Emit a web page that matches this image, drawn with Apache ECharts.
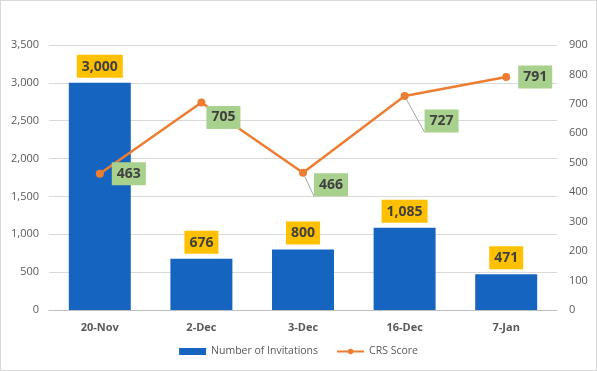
<!DOCTYPE html>
<html><head><meta charset="utf-8">
<script src="https://cdn.jsdelivr.net/npm/echarts@6/dist/echarts.min.js"></script>
<style>html,body{margin:0;padding:0;background:#fff}#c{width:595px;height:369px;border:1px solid #d9d9d9}</style>
</head><body><div id="c"></div>
<script>
const categories = ['20-Nov', '2-Dec', '3-Dec', '16-Dec', '7-Jan'];
const invitations = [3000, 676, 800, 1085, 471];
const crsScores = [463, 705, 466, 727, 791];
const crsLabelOffsets = [[3, 0], [-4, 15], [2, 12], [11, 25], [3, 0]];
const crsLeader = [false, false, true, true, false];

const chart = echarts.init(document.getElementById('c'));
const FONT = '"Open Sans", "Liberation Sans", sans-serif';
chart.setOption({
  animation: false,
  textStyle: { fontFamily: FONT },
  grid: { left: 48, right: 39, top: 44, bottom: 60 },
  legend: {
    bottom: 8, left: 'center', itemGap: 18, itemWidth: 27, itemHeight: 7,
    textStyle: { color: '#595959', fontSize: 10.5, fontFamily: FONT },
    data: [{ name: 'Number of Invitations', icon: 'rect' }, { name: 'CRS Score' }]
  },
  xAxis: {
    type: 'category', data: categories,
    axisLine: { lineStyle: { color: '#bfbfbf' } },
    axisTick: { show: false },
    axisLabel: { color: '#595959', fontSize: 11, fontWeight: 'bold', margin: 12 }
  },
  yAxis: [
    { type: 'value', min: 0, max: 3500, interval: 500,
      axisLabel: { color: '#595959', fontSize: 11, margin: 10,
        formatter: v => v.toLocaleString('en-US') },
      splitLine: { lineStyle: { color: '#d9d9d9' } },
      axisLine: { show: false }, axisTick: { show: false } },
    { type: 'value', min: 0, max: 900, interval: 100,
      axisLabel: { color: '#595959', fontSize: 11, margin: 12 },
      splitLine: { show: false },
      axisLine: { show: false }, axisTick: { show: false } }
  ],
  series: [
    { name: 'Number of Invitations', type: 'bar', yAxisIndex: 0, data: invitations,
      barWidth: '61%', itemStyle: { color: '#1565C0' },
      label: { show: true, position: 'top', distance: 5,
        formatter: p => p.value.toLocaleString('en-US'),
        backgroundColor: '#FFC000', padding: [5, 5, 4, 5],
        color: '#404040', fontWeight: 'bold', fontSize: 14, fontFamily: FONT } },
    { name: 'CRS Score', type: 'line', yAxisIndex: 1,
      data: crsScores.map((v, i) => ({
        value: v,
        label: { offset: crsLabelOffsets[i] },
        labelLine: { show: crsLeader[i], lineStyle: { color: '#a6a6a6', width: 1 } }
      })),
      symbol: 'circle', symbolSize: 8,
      lineStyle: { color: '#ED7D31', width: 2.5 }, itemStyle: { color: '#ED7D31' },
      label: { show: true, position: 'right', distance: 5,
        backgroundColor: '#A9D18E', padding: [5, 5, 4, 5],
        color: '#404040', fontWeight: 'bold', fontSize: 14, fontFamily: FONT } }
  ]
});
</script></body></html>
